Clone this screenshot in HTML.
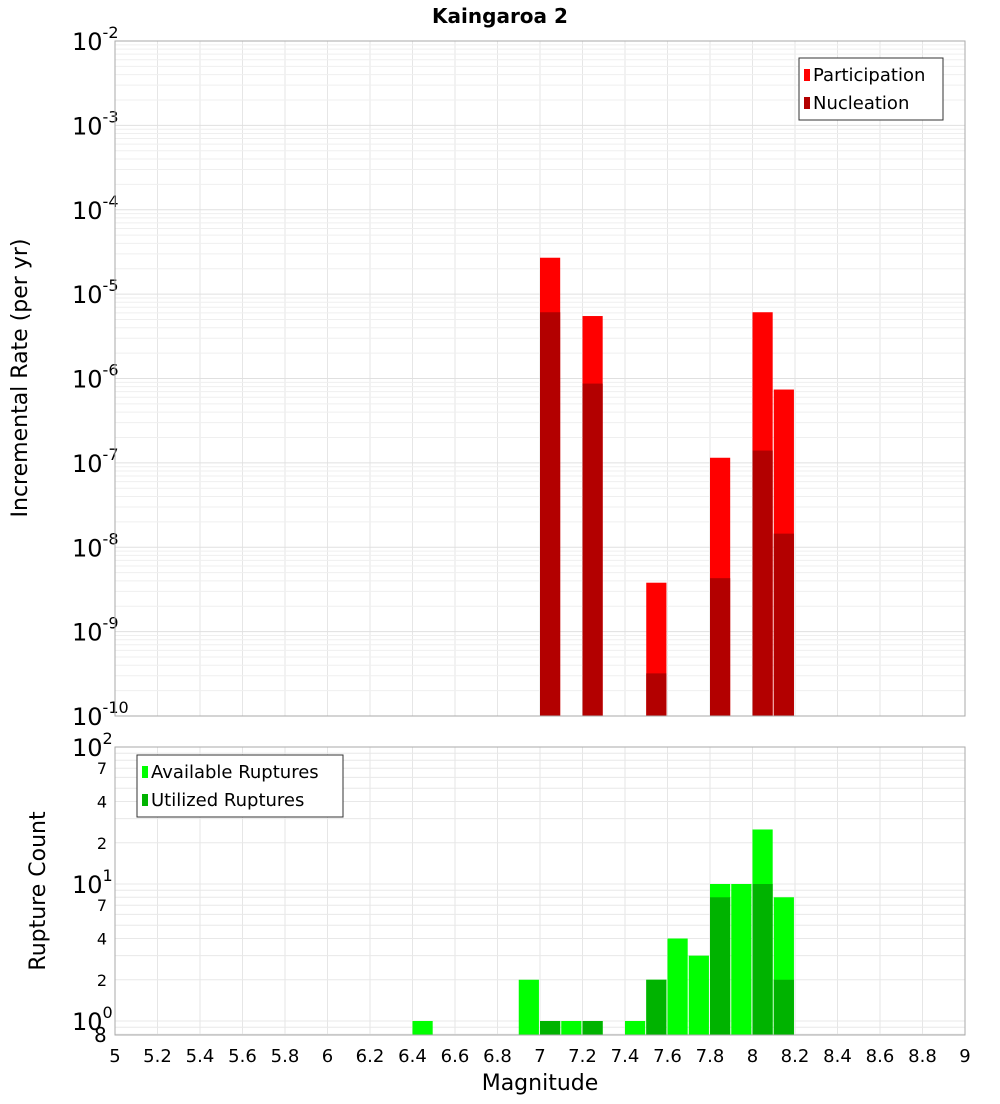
<!DOCTYPE html>
<html><head><meta charset="utf-8"><style>
body{margin:0;background:#fff;font-family:"DejaVu Sans","Liberation Sans",sans-serif}
svg text{font-family:"DejaVu Sans","Liberation Sans",sans-serif}
</style></head><body>
<svg id="c" width="1000" height="1100" xmlns="http://www.w3.org/2000/svg">
<text x="500" y="23" text-anchor="middle" font-size="20" font-weight="bold">Kaingaroa 2</text>
<text transform="translate(27,378) rotate(-90)" text-anchor="middle" font-size="22">Incremental Rate (per yr)</text>
<text transform="translate(45,891) rotate(-90)" text-anchor="middle" font-size="22">Rupture Count</text>
<text x="540" y="1090" text-anchor="middle" font-size="22">Magnitude</text>
</svg>
<script>
const mags=[7.0,7.2,7.5,7.8,8.0,8.1];
const participation=[2.7e-5,5.5e-6,3.8e-9,1.15e-7,6.1e-6,7.4e-7];
const nucleation=[6.1e-6,8.7e-7,3.2e-10,4.3e-9,1.4e-7,1.45e-8];
const cntMags=[6.4,6.9,7.0,7.1,7.2,7.4,7.5,7.6,7.7,7.8,7.9,8.0,8.1];
const available=[1,2,1,1,1,1,2,4,3,10,10,25,8];
const utilMags=[7.0,7.2,7.5,7.8,8.0,8.1];
const utilized=[1,1,2,8,10,2];
const xTicks=["5","5.2","5.4","5.6","5.8","6","6.2","6.4","6.6","6.8","7","7.2","7.4","7.6","7.8","8","8.2","8.4","8.6","8.8","9"];

const svg=document.getElementById('c');const NS='http://www.w3.org/2000/svg';
function mk(t,a,p){const e=document.createElementNS(NS,t);for(const k in a)e.setAttribute(k,a[k]);(p||svg).appendChild(e);return e;}
const L=115,R=965;
const X=m=>L+(m-5)/4*(R-L);
const T0=41,T1=716;const Yt=v=>T0+(-2-Math.log10(v))/8*(T1-T0);
const B0=747,B1=1035;const Yb=v=>1021-Math.log10(v)*137;

// panels
const p1=mk('rect',{x:L,y:T0,width:R-L,height:T1-T0,fill:'#fff',stroke:'none'});

const p2=mk('rect',{x:L,y:B0,width:R-L,height:B1-B0,fill:'#fff',stroke:'none'});

// grids
for(let i=0;i<xTicks.length;i++){const x=X(+xTicks[i]);
 const g=mk('line',{x1:x,x2:x,y1:T0,y2:T1,stroke:'#e6e6e6'});
 const g2=mk('line',{x1:x,x2:x,y1:B0,y2:B1,stroke:'#e6e6e6'});
 const t=mk('text',{x:x,y:1062,'text-anchor':'middle','font-size':18});t.textContent=xTicks[i];
 }
for(let e=-10;e<-2;e++)for(let k=1;k<10;k++){const y=Yt(k*Math.pow(10,e));
 const g=mk('line',{x1:L,x2:R,y1:y,y2:y,stroke:k==1?'#e0e0e0':'#efefef'});}
for(let e=-10;e<=-2;e++){const y=Yt(Math.pow(10,e));
 const t=mk('text',{x:72,y:y+9,'font-size':24});t.innerHTML='10<tspan dy="-12" font-size="16">'+e+'</tspan>';
 }
for(let e=-1;e<2;e++)for(let k=1;k<10;k++){const v=k*Math.pow(10,e);const y=Yb(v);if(y>B1||y<B0)continue;
 const g=mk('line',{x1:L,x2:R,y1:y,y2:y,stroke:'#e8e8e8'});
 if(e>=0&&(k==2||k==4||k==7)){const t=mk('text',{x:107,y:y+6,'text-anchor':'end','font-size':16});t.textContent=k;
 }}
[0,1,2].forEach(e=>{const y=Yb(Math.pow(10,e));const t=mk('text',{x:72,y:y+9,'font-size':24});t.innerHTML='10<tspan dy="-12" font-size="16">'+e+'</tspan>';
 });
{const t=mk('text',{x:94,y:1042,'font-size':20});t.textContent='8';}
// bars
const w=X(5.095)-X(5);
mags.forEach((m,i)=>{
 const a=mk('rect',{x:X(m),y:Yt(participation[i]),width:w,height:T1-Yt(participation[i]),fill:'#ff0000'});
 
 const b=mk('rect',{x:X(m),y:Yt(nucleation[i]),width:w,height:T1-Yt(nucleation[i]),fill:'#b30000'});
 });
cntMags.forEach((m,i)=>{const y=Yb(available[i]);
 const a=mk('rect',{x:X(m),y:y,width:w,height:B1-y,fill:'#00ff00'});
 });
utilMags.forEach((m,i)=>{const y=Yb(utilized[i]);
 const a=mk('rect',{x:X(m),y:y,width:w,height:B1-y,fill:'#00b300'});
 });
// borders
const f1=mk('rect',{x:L,y:T0,width:R-L,height:T1-T0,fill:'none',stroke:'#aaa'});
const f2=mk('rect',{x:L,y:B0,width:R-L,height:B1-B0,fill:'none',stroke:'#aaa'});
// legends
function legend(x,y,wd,items,name){const g=mk('g',{});
 mk('rect',{x:x,y:y,width:wd,height:items.length*28+6,fill:'#fff',stroke:'#333'},g);
 items.forEach((it,i)=>{const r=mk('rect',{x:x+5,y:y+11+i*28,width:6,height:12,fill:it[1]},g);
 const t=mk('text',{x:x+14,y:y+23+i*28,'font-size':18},g);t.textContent=it[0];
 });}
legend(799,58,144,[['Participation','#ff0000'],['Nucleation','#b30000']],'top-legend');
legend(137,755,206,[['Available Ruptures','#00ff00'],['Utilized Ruptures','#00b300']],'bottom-legend');
</script>
</body></html>
